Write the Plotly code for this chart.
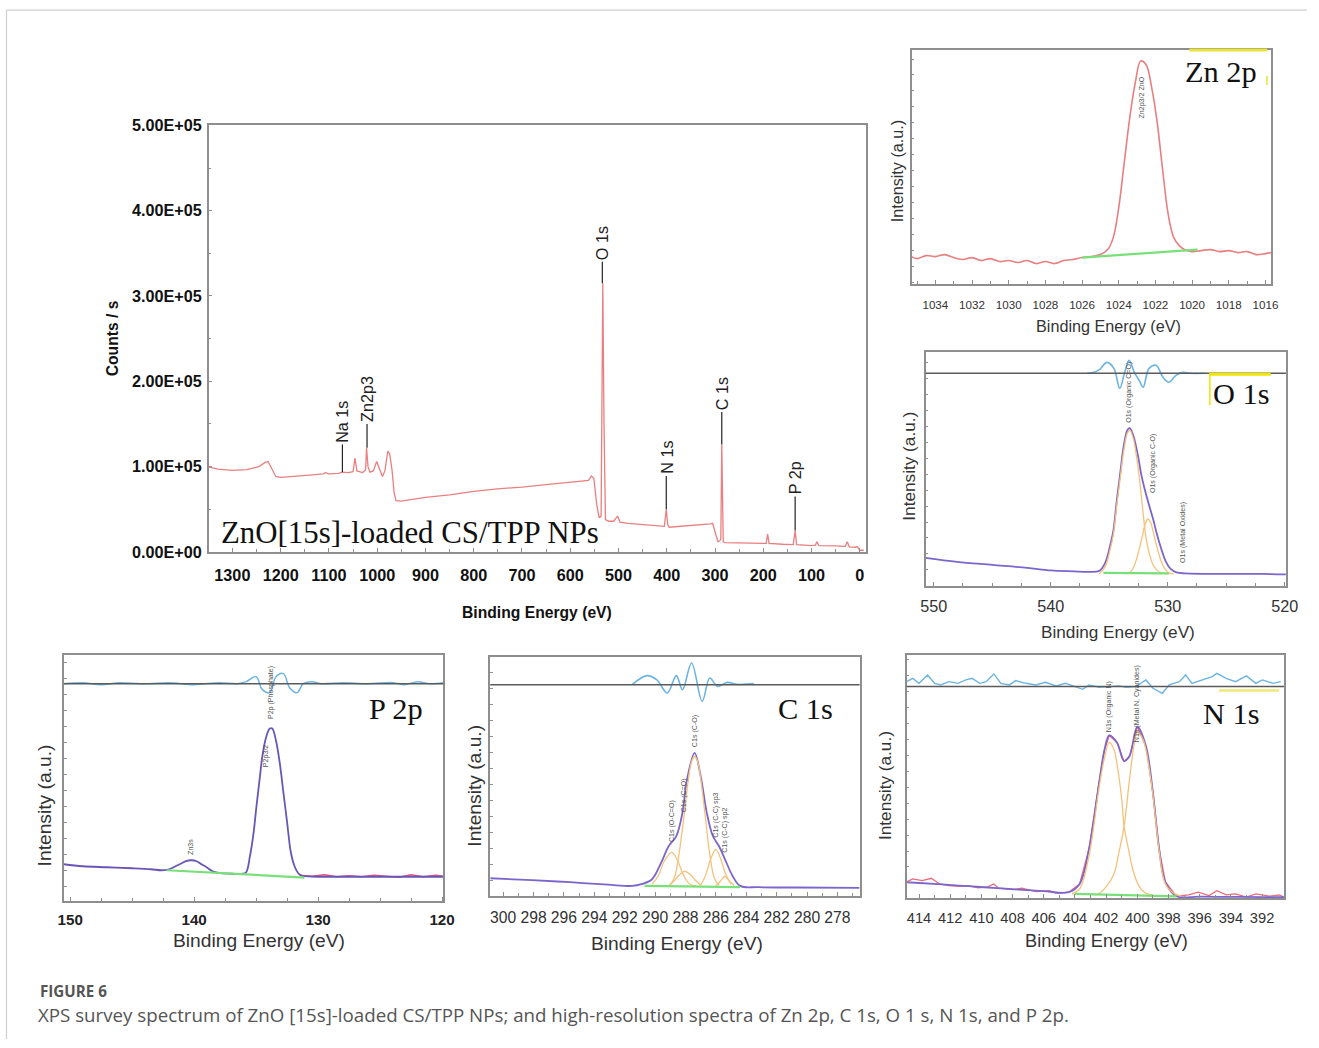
import plotly.graph_objects as go

W, H = 1319, 1048

# ===================== DATA =====================
# --- survey spectrum ---
survey_be = [1352, 1330, 1300, 1270, 1245, 1232, 1226, 1218, 1210, 1200, 1170, 1140, 1112, 1107, 1100,
             1080, 1072, 1060, 1050, 1046, 1042, 1030, 1024, 1022, 1019, 1015, 1008, 1001, 995, 989,
             984, 978, 974, 969, 965, 961, 950, 900, 850, 800, 750, 700, 650, 600, 575, 562, 556,
             551, 545, 540, 536, 534, 532.5, 530, 527, 520, 510, 502, 497, 480, 470, 450, 420, 405,
             401, 398, 395, 370, 340, 310, 305, 298, 294, 290, 288, 286, 283, 280, 250, 200, 194,
             191, 188, 160, 138, 134, 131, 100, 92, 89, 85, 50, 30, 26, 22, 10, 5, 0, -8]
survey_counts = [100000, 97000, 95500, 96500, 100000, 105000, 106000, 97000, 88500, 87500, 88500, 90000,
                 91500, 93000, 91500, 92000, 93500, 93000, 94000, 110000, 95000, 93000, 96000, 122000,
                 100000, 93500, 95000, 106000, 97000, 88500, 95000, 118000, 115000, 95000, 70000, 60000,
                 59500, 64000, 67000, 71000, 74000, 76000, 79000, 82000, 84000, 84000, 89000, 86000,
                 55000, 40000, 42000, 250000, 315000, 150000, 38000, 36000, 36000, 42000, 35000, 33500,
                 33000, 32000, 31000, 30000, 50000, 32000, 29000, 30000, 31000, 33000, 33500, 20000,
                 12000, 13000, 15000, 126000, 12000, 11000, 10500, 10000, 10000, 21000, 10000, 9000,
                 8500, 25000, 8500, 7500, 8000, 12000, 7500, 7000, 6500, 12000, 6000, 5500, 6000, 2000, 2000]
survey_ytick_vals = [0, 100000, 200000, 300000, 400000, 500000]
survey_ytick_text = ["0.00E+00", "1.00E+05", "2.00E+05", "3.00E+05", "4.00E+05", "5.00E+05"]
survey_ymin_vals = [50000, 150000, 250000, 350000, 450000]
survey_peak_names = ["Na 1s", "Zn2p3", "O 1s", "N 1s", "C 1s", "P 2p"]
survey_peak_be = [1072, 1021, 533.5, 401, 286, 134]
survey_peak_base = [93500, 122000, 315000, 50000, 126000, 25000]
survey_peak_tip = [126000, 150000, 340000, 89000, 164000, 65000]

# --- Zn 2p ---
zn_be = [1035.3, 1035.0, 1034.5, 1034.0, 1033.5, 1033.0, 1032.5, 1032.0, 1031.5, 1031.0, 1030.5, 1030.0,
         1029.5, 1029.0, 1028.5, 1028.0, 1027.5, 1027.0, 1026.5, 1026.0, 1025.5, 1025.0, 1024.6, 1024.3,
         1024.0, 1023.7, 1023.4, 1023.1, 1022.8, 1022.5, 1022.2, 1021.9, 1021.6, 1021.3, 1021.0, 1020.7,
         1020.4, 1020.0, 1019.5, 1019.0, 1018.5, 1018.0, 1017.5, 1017.0, 1016.5, 1016.0, 1015.7]
zn_int = [26, 24, 27, 26, 28, 25, 23, 25, 22, 24, 21, 22, 20, 22, 19, 21, 19, 22, 23, 25, 26, 28, 33, 45,
          75, 120, 165, 200, 222, 218, 195, 160, 112, 68, 45, 37, 33, 31, 32, 33, 31, 32, 30, 31, 28, 29, 30]
zn_bg_be = [1026.0, 1019.7]
zn_bg = [25, 33]
zn_labels = ["Zn2p3/2 ZnO"]
zn_label_be = [1022.75]
zn_label_i = [162]

# --- O 1s ---
o_be = [550.7, 548, 545, 542, 540, 538, 536.8, 535.85, 535.35, 534.95, 534.65, 534.35, 534.05, 533.75,
        533.45, 533.25, 532.95, 532.55, 532.25, 531.95, 531.55, 531.25, 530.95, 530.55, 530.15, 529.75,
        529.25, 528.5, 525, 522, 519.9]
o_env = [28, 24, 21, 18, 15.5, 14.5, 14, 15, 23, 39, 55, 86, 114, 141, 156, 158, 151, 131, 111, 96, 79,
         67, 53, 37, 24, 17, 13.5, 12.5, 12, 12, 11.5]
o_c1_be = [535.85, 535.35, 534.95, 534.65, 534.35, 534.05, 533.75, 533.45, 533.25, 532.95, 532.65,
           532.4, 532.15, 531.85, 531.55, 531.25, 530.95, 530.55, 530.05]
o_c1 = [12, 19, 35, 51, 81, 109, 136, 153, 156, 148, 128, 106, 78, 48, 31, 21, 16, 13, 12]
o_c2_be = [533.5, 533.1, 532.8, 532.5, 532.2, 531.95, 531.7, 531.45, 531.2, 530.9, 530.6, 530.3, 529.9, 529.5]
o_c2 = [12, 15, 22, 34, 48, 61, 67, 63, 52, 38, 26, 18, 13, 12]
o_bg_be = [535.5, 529.9]
o_bg = [13, 12.5]
o_res_be = [536.9, 536.3, 535.8, 535.2, 534.6, 534.1, 533.7, 533.3, 532.85, 532.4, 532.1, 531.6, 531.0,
            530.4, 529.9, 529.3, 528.7, 528.1, 526.8]
o_res = [0, 1, 4, 11, 5, -15, 0, 13, 1, -8, -14, 5, 8, -4, -9, -2, 1, 0, 0]
o_labels = ["O1s (Organic C=O)", "O1s (Organic C-O)", "O1s (Metal Oxides)"]
o_label_be = [533.3, 531.3, 528.65]
o_label_i = [161, 91, 21]

# --- P 2p ---
p_be = [150.5, 149, 147, 145, 143.5, 142.6, 142.0, 141.5, 141.0, 140.6, 140.2, 139.8, 139.4, 139.0, 138.5,
        137.9, 137.0, 136.1, 135.8, 135.5, 135.2, 135.0, 134.7, 134.5, 134.2, 133.9, 133.7, 133.4, 133.1,
        132.8, 132.5, 132.2, 131.9, 131.6, 131.3, 130.5, 128, 125, 122, 119.9]
p_env = [38, 36, 35, 34, 33, 32, 33, 36, 39, 41.5, 42, 41, 38, 35, 31, 29, 28.5, 28.5, 30, 46, 70, 93, 125,
         146, 165, 174, 174, 162, 140, 110, 80, 50, 36, 29, 26.5, 25.7, 25.5, 25.5, 25.5, 25.5]
p_raw_be = [131.5, 130.5, 129.5, 128.5, 127.5, 126.5, 125.5, 124.5, 123.5, 122.5, 121.5, 120.5, 119.9]
p_raw = [27, 26, 27.5, 25.5, 26.5, 25.5, 27, 26, 25, 27.5, 25.5, 27, 26]
p_bg_be = [142.2, 131.1]
p_bg = [32, 24.7]
p_res_be = [150.5, 149, 147.5, 146, 144, 142, 140, 138, 136.5, 135.8, 135.0, 134.5, 133.9, 133.4, 132.8,
            132.3, 131.7, 131.2, 130.5, 129.8, 128, 126, 124, 123, 122, 121, 119.9]
p_res = [0, 1, -1, 1, 0, 1, -1, 1, 0, 2, 7, -6, -9, 7, 10, -4, -9, 0, 2, 0, 1, 0, 1, -1, 2, 0, 1]
p_labels = ["Zn3s", "P2p (Phosphate)", "P2p3/2"]
p_label_be = [140.2, 133.8, 134.15]
p_label_i = [45, 181, 133]

# --- C 1s ---
c_be = [300.85, 298.1, 295.6, 293.1, 291.5, 290.9, 290.2, 289.6, 289.1, 288.6, 288.2, 287.9, 287.4, 287.0,
        286.6, 286.2, 285.8, 285.4, 284.9, 284.4, 283.2, 280.7, 276.54]
c_env = [18, 16, 14, 11.5, 10.3, 12, 17, 33.7, 50.3, 60.3, 83.7, 117, 143.7, 120.3, 83.7, 60.3, 50.3, 37,
         20.3, 10.3, 9, 8.7, 8.3]
c_c1_be = [290.2, 289.8, 289.4, 288.9, 288.5, 288.1, 287.7, 287.3]
c_c1 = [12, 20, 35, 44, 35, 20, 12, 10.5]
c_c2_be = [289.1, 288.7, 288.35, 288.05, 287.7, 287.35, 287.0]
c_c2 = [10.5, 16, 22, 25, 22, 16, 11]
c_c3_be = [289.0, 288.7, 288.4, 288.1, 287.8, 287.6, 287.4, 287.2, 287.0, 286.7, 286.4, 286.1, 285.8]
c_c3 = [11, 20, 45, 80, 118, 135, 140, 135, 118, 80, 42, 18, 11]
c_c4_be = [287.0, 286.7, 286.35, 286.0, 285.7, 285.35, 285.0]
c_c4 = [11, 20, 37, 47, 38, 22, 12]
c_c5_be = [286.0, 285.7, 285.4, 285.1, 284.8]
c_c5 = [10.5, 15, 20, 15, 11]
c_bg_be = [290.7, 284.4]
c_bg = [10.3, 9]
c_res_be = [291.5, 290.55, 289.9, 289.2, 288.6, 288.2, 287.6, 286.9, 286.4, 285.9, 285.25, 284.6, 283.5]
c_res = [0, 9, 5, -8.3, 9, -5, 21.7, -16.7, 6.7, -1.7, 2.3, 0.3, 1]
c_labels = ["C1s (O-C=O)", "C1s (C=O)", "C1s (C-O)", "C1s (C-C) sp3", "C1s (C-C) sp2"]
c_label_be = [288.9, 288.1, 287.4, 286.0, 285.4]
c_label_i = [52, 82, 147, 57, 42]

# --- N 1s ---
n_be = [414.8, 412.5, 410.8, 409, 407.6, 406, 404.4, 403.7, 403.1, 402.45, 402.1, 401.8, 401.3, 400.85,
        400.5, 400.0, 399.45, 399.0, 398.6, 398.2, 397.5, 396, 394, 392, 390.6]
n_env = [16.7, 14.5, 12.7, 10.8, 9.3, 7.8, 6.7, 15, 50, 116.7, 150, 164, 156.7, 138.3, 143.3, 172.7, 153.3,
         106.7, 50, 16.7, 2.7, 2.2, 2, 1.8, 1.7]
n_raw_be = [414.8, 414.4, 413.8, 413.2, 412.7, 412.1, 411.4, 410.8, 410.2, 409.6, 409.2, 408.9, 408.0, 407.4,
            406.5, 405.65, 405.2, 404.4, 403.7, 403.1, 402.45, 402.1, 401.8, 401.3, 400.85, 400.5, 400.0,
            399.45, 399.0, 398.6, 398.2, 397.5, 396.7, 396.1, 395.4, 394.9, 394.3, 393.7, 393.0, 392.4,
            391.55, 390.9, 390.6]
n_raw = [17, 20, 18.3, 20.7, 15, 13.3, 12.7, 13, 11, 12, 15, 10.7, 9.3, 10.7, 7.3, 8.3, 5.7, 6.7, 15, 50,
         117, 150, 164, 157, 138, 143, 173, 153, 107, 50, 17, 2.7, 4, 6.7, 3.3, 8.3, 4, 5, 1.7, 5, 2.7, 4, 1.7]
n_c1_be = [404.2, 403.7, 403.1, 402.45, 402.1, 401.8, 401.5, 401.3, 401.0, 400.85, 400.5, 400.3, 399.9,
           399.5, 399.0]
n_c1 = [5, 10, 43, 112, 142, 157, 150, 135, 100, 73, 45, 30, 13, 6, 4]
n_c2_be = [402.8, 402.5, 402.0, 401.5, 401.2, 400.85, 400.5, 400.2, 400.0, 399.7, 399.45, 399.0, 398.6,
           398.2, 397.6, 397.2]
n_c2 = [4, 5, 12, 25, 45, 73, 120, 155, 167, 162, 150, 104, 48, 15, 5, 3]
n_bg_be = [404.0, 397.5]
n_bg = [5, 2.5]
n_res_be = [414.8, 414.4, 414.0, 413.45, 413.0, 412.6, 412.1, 411.5, 411.0, 410.6, 410.1, 409.7, 409.2,
            408.75, 408.2, 407.8, 407.15, 406.5, 405.9, 405.2, 404.6, 403.9, 403.5, 403.1, 402.45, 401.8,
            401.2, 400.7, 400.1, 399.45, 399.0, 398.4, 397.95, 397.3, 396.9, 396.5, 395.8, 395.2, 394.9,
            394.3, 393.7, 393.0, 392.4, 391.98, 391.3, 390.8]
n_res = [5, 8.3, 3.3, 11.7, 3.3, 1.7, 5, 3.3, 6.7, 8.3, 3.3, 5, 12.7, 3.3, 1.7, 6, 3.3, 1.7, 4.3, 0.7, 3.3,
         -0.7, -2.7, 1.7, -0.7, 0, 0.7, -0.7, 0, 6.7, -1.7, -6.7, 1.7, 5, 11.7, 3.3, 6.7, 10, 13.3, 8.3, 5,
         10.7, 3.3, 6.7, 3.3, 5]
n_labels = ["N1s (Organic N)", "N1s (Metal N, Cyanides)"]
n_label_be = [401.8, 400.0]
n_label_i = [165, 155]

# ===================== LAYOUT HELPERS =====================
AX = "#8e8e8e"
RED = "#e97f7f"
PURPLE = "#7a66cc"
ORANGE = "#f5c27c"
GREEN = "#78e078"
BLUE = "#6cb4e4"
ZERO = "#5a5a5a"
SANS = "Liberation Sans, Arial, sans-serif"
SERIF = "Liberation Serif, Times New Roman, serif"

# the page is photographed with a small body margin and scaled to the window;
# positions below are given in target-picture pixels and mapped back here
SX, SY, OFFX, OFFY = 1319 / 1335, 1048 / 1064, 5, 8
FS = 1.012


def fx(px):
    return (px / SX - OFFX) / W


def fy(py):
    return 1 - (py / SY - OFFY) / H


def fnt(size, family=SANS, color="#333", bold=False):
    return dict(family=family, size=size * FS, color=color, weight="bold" if bold else "normal")


def xaxis(box, rng, dtick, minor_dtick, fsize, standoff, anchor, bold=False, color="#333"):
    return dict(domain=[fx(box[0]), fx(box[1])], range=rng, anchor=anchor,
                tickmode="linear", tick0=0, dtick=dtick,
                showline=True, mirror=True, linecolor=AX, linewidth=1.5,
                ticks="inside", ticklen=4, tickcolor=AX, tickwidth=1,
                minor=dict(ticks="inside", tickmode="linear", tick0=0, dtick=minor_dtick,
                           ticklen=3, tickcolor=AX, showgrid=False),
                showgrid=False, zeroline=False,
                tickfont=fnt(fsize, color=color, bold=bold),
                ticklabelstandoff=standoff)


def yaxis(box, rng, anchor, dtick=16):
    return dict(domain=[fy(box[3]), fy(box[2])], range=rng, anchor=anchor,
                showline=True, mirror=True, linecolor=AX, linewidth=1.5,
                ticks="inside", ticklen=3, tickcolor=AX, tickmode="linear", tick0=0, dtick=dtick,
                showticklabels=False, showgrid=False, zeroline=False)


fig = go.Figure()


def add_line(x, y, xa, ya, color, width, shape="spline", dash=None):
    fig.add_trace(go.Scatter(x=x, y=y, xaxis=xa, yaxis=ya, mode="lines",
                             line=dict(color=color, width=width, shape=shape, dash=dash),
                             hoverinfo="skip", showlegend=False))


annotations = []
shapes = []


def text(px, py, s, size, family=SANS, color="#333", angle=0, bold=False, xanchor="center"):
    annotations.append(dict(x=fx(px), y=fy(py), xref="paper", yref="paper", text=s, showarrow=False,
                            xanchor=xanchor, yanchor="middle", textangle=angle,
                            font=fnt(size, family=family, color=color, bold=bold)))


def peak_labels(names, bes, levels, xa, ya, size=7):
    for nm, b, lv in zip(names, bes, levels):
        annotations.append(dict(x=b, y=lv, xref=xa, yref=ya, text=nm, showarrow=False,
                                textangle=-90, xanchor="center", yanchor="bottom",
                                font=fnt(size, color="#555")))


def zero_line(xa, ya, level):
    shapes.append(dict(type="line", xref=xa + " domain", yref=ya, x0=0, x1=1, y0=level, y1=level,
                       line=dict(color=ZERO, width=1.5)))


# ===================== SURVEY =====================
SB = (208, 866, 124.5, 552)
add_line(survey_be, survey_counts, "x", "y", RED, 1.3, shape="linear")
for nm, b, base, tip in zip(survey_peak_names, survey_peak_be, survey_peak_base, survey_peak_tip):
    shapes.append(dict(type="line", xref="x", yref="y", x0=b, x1=b, y0=base, y1=tip,
                       line=dict(color="#222", width=1.2)))
    annotations.append(dict(x=b, y=tip, xref="x", yref="y", text=nm, showarrow=False, textangle=-90,
                            xanchor="center", yanchor="bottom", font=fnt(16, color="#222")))
text(410, 533, "ZnO[15s]-loaded CS/TPP NPs", 30.5, family=SERIF, color="#111")
text(537, 613, "Binding Energy (eV)", 15.5, color="#111", bold=True)
text(112, 338, "Counts / s", 15.5, color="#111", bold=True, angle=-90)

# ===================== Zn 2p =====================
ZB = (912, 1272, 49, 283)
add_line(zn_be, zn_int, "x2", "y2", RED, 1.6, shape="spline")
add_line(zn_bg_be, zn_bg, "x2", "y2", GREEN, 2.2, shape="linear")
peak_labels(zn_labels, zn_label_be, zn_label_i, "x2", "y2")
shapes.append(dict(type="line", xref="x2 domain", yref="y2 domain", x0=0.773, x1=0.99, y0=1, y1=1,
                   line=dict(color="#e8e23a", width=3)))
shapes.append(dict(type="line", xref="x2 domain", yref="y2 domain", x0=0.989, x1=0.989, y0=0.85, y1=0.89,
                   line=dict(color="#e8e23a", width=1.5)))
text(1222, 71, "Zn 2p", 30, family=SERIF, color="#111")
text(1109, 326, "Binding Energy (eV)", 16)
text(897, 170, "Intensity (a.u.)", 16, angle=-90)

# ===================== O 1s =====================
OB = (926, 1287, 352, 586)
O_ZERO = 213
add_line(o_be, o_env, "x3", "y3", PURPLE, 1.8)
add_line(o_c1_be, o_c1, "x3", "y3", ORANGE, 1.3)
add_line(o_c2_be, o_c2, "x3", "y3", ORANGE, 1.3)
add_line(o_bg_be, o_bg, "x3", "y3", GREEN, 2.2, shape="linear")
zero_line("x3", "y3", O_ZERO)
add_line(o_res_be, [r + O_ZERO for r in o_res], "x3", "y3", BLUE, 1.6)
peak_labels(o_labels, o_label_be, o_label_i, "x3", "y3")
shapes.append(dict(type="line", xref="x3 domain", yref="y3", x0=0.787, x1=0.958, y0=O_ZERO - 1, y1=O_ZERO - 1,
                   line=dict(color="#f0e600", width=3)))
shapes.append(dict(type="line", xref="x3 domain", yref="y3", x0=0.789, x1=0.789, y0=O_ZERO - 1, y1=181,
                   line=dict(color="#f0e600", width=1.5)))
text(1243, 394, "O 1s", 30, family=SERIF, color="#111")
text(1119, 632, "Binding Energy (eV)", 17)
text(910, 466, "Intensity (a.u.)", 17, angle=-90)

# ===================== P 2p =====================
PB = (63, 443, 655, 902)
P_ZERO = 219
add_line(p_raw_be, p_raw, "x4", "y4", "#e0507a", 1.4, shape="linear")
add_line(p_be, p_env, "x4", "y4", "#6a55b8", 1.8)
add_line(p_bg_be, p_bg, "x4", "y4", GREEN, 2.2, shape="linear")
zero_line("x4", "y4", P_ZERO)
add_line(p_res_be, [r + P_ZERO for r in p_res], "x4", "y4", BLUE, 1.5)
peak_labels(p_labels, p_label_be, p_label_i, "x4", "y4")
text(396, 709, "P 2p", 30, family=SERIF, color="#111")
text(258, 941, "Binding Energy (eV)", 19)
text(43, 806, "Intensity (a.u.)", 19, angle=-90)

# ===================== C 1s =====================
CB = (490, 860, 657, 897)
C_ZERO = 212
add_line(c_be, c_env, "x5", "y5", PURPLE, 1.8)
for bx, iy in [(c_c1_be, c_c1), (c_c2_be, c_c2), (c_c3_be, c_c3), (c_c4_be, c_c4), (c_c5_be, c_c5)]:
    add_line(bx, iy, "x5", "y5", ORANGE, 1.3)
add_line(c_bg_be, c_bg, "x5", "y5", GREEN, 2.2, shape="linear")
zero_line("x5", "y5", C_ZERO)
add_line(c_res_be, [r + C_ZERO for r in c_res], "x5", "y5", BLUE, 1.6)
peak_labels(c_labels, c_label_be, c_label_i, "x5", "y5")
text(806, 709, "C 1s", 30, family=SERIF, color="#111")
text(677, 944, "Binding Energy (eV)", 19)
text(474, 786, "Intensity (a.u.)", 19, angle=-90)

# ===================== N 1s =====================
NB = (907, 1285, 655, 899)
N_ZERO = 213
add_line(n_raw_be, n_raw, "x6", "y6", "#ee6a7a", 1.3, shape="linear")
add_line(n_be, n_env, "x6", "y6", PURPLE, 1.8)
add_line(n_c1_be, n_c1, "x6", "y6", ORANGE, 1.3)
add_line(n_c2_be, n_c2, "x6", "y6", ORANGE, 1.3)
add_line(n_bg_be, n_bg, "x6", "y6", GREEN, 2.2, shape="linear")
zero_line("x6", "y6", N_ZERO)
add_line(n_res_be, [r + N_ZERO for r in n_res], "x6", "y6", BLUE, 1.4, shape="linear")
peak_labels(n_labels, n_label_be, n_label_i, "x6", "y6")
shapes.append(dict(type="line", xref="x6 domain", yref="y6", x0=0.828, x1=0.987, y0=N_ZERO - 4, y1=N_ZERO - 4,
                   line=dict(color="#f0e87a", width=2.5)))
text(1233, 714, "N 1s", 30, family=SERIF, color="#111")
text(1107, 942, "Binding Energy (eV)", 18)
text(886, 786, "Intensity (a.u.)", 17, angle=-90)

# ===================== caption & frame =====================
text(37, 992, "FIGURE 6", 15, family="Open Sans, sans-serif", color="#555", xanchor="left", bold=True)
text(35, 1016, "XPS survey spectrum of ZnO [15s]-loaded CS/TPP NPs; and high-resolution spectra of "
               "Zn 2p, C 1s, O 1 s, N 1s, and P 2p.", 18.5, family="Open Sans, sans-serif", color="#555",
     xanchor="left")
shapes.append(dict(type="line", xref="paper", yref="paper", x0=0.0004, x1=1, y0=fy(9), y1=fy(9),
                   line=dict(color="#cfcfcf", width=1.2)))
shapes.append(dict(type="line", xref="paper", yref="paper", x0=0.0004, x1=0.0004,
                   y0=0, y1=fy(9), line=dict(color="#cfcfcf", width=1.2)))

# ===================== AXES =====================
layout = dict(
    width=W, height=H, margin=dict(l=0, r=0, t=0, b=0),
    paper_bgcolor="white", plot_bgcolor="white", showlegend=False,
    annotations=annotations, shapes=shapes,
    xaxis=xaxis(SB, [1349, -12], 100, 50, 16, 8, "y", bold=True, color="#111"),
    yaxis=dict(domain=[fy(SB[3]), fy(SB[2])], range=[0, 500000], anchor="x",
               tickmode="array", tickvals=survey_ytick_vals, ticktext=survey_ytick_text,
               minor=dict(tickmode="array", tickvals=survey_ymin_vals, ticks="inside", ticklen=3,
                          tickcolor=AX),
               showline=True, mirror=True, linecolor=AX, linewidth=1.5, ticks="inside", ticklen=4,
               tickcolor=AX, showgrid=False, zeroline=False,
               tickfont=fnt(16, color="#111", bold=True), ticklabelstandoff=2),
    xaxis2=xaxis(ZB, [1035.3, 1015.7], 2, 1, 11.5, 10, "y2"),
    yaxis2=yaxis(ZB, [-1, 233], "x2"),
    xaxis3=xaxis(OB, [550.7, 519.9], 10, 2.5, 16, 5, "y3"),
    yaxis3=yaxis(OB, [0, 234], "x3"),
    xaxis4=xaxis(PB, [150.5, 119.9], 10, 2.5, 15, 4, "y4", bold=True, color="#222"),
    yaxis4=yaxis(PB, [1, 248], "x4"),
    xaxis5=xaxis(CB, [300.85, 276.54], 2, 1, 15.5, 6, "y5"),
    yaxis5=yaxis(CB, [0, 240], "x5"),
    xaxis6=xaxis(NB, [414.8, 390.6], 2, 1, 14.5, 5, "y6"),
    yaxis6=yaxis(NB, [0.7, 245], "x6"),
)
fig.update_layout(**layout)
fig.write_html("out.html")
